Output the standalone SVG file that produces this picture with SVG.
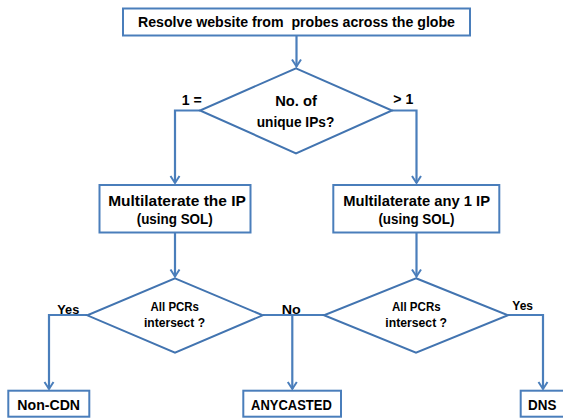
<svg xmlns="http://www.w3.org/2000/svg" width="563" height="418" viewBox="0 0 563 418">
<style>
.box{fill:#ffffff;stroke:#4a7ebb;stroke-width:2}
.dia{fill:#ffffff;stroke:#4274b0;stroke-width:2;stroke-linejoin:miter}
.conn{fill:none;stroke:#4a7ebb;stroke-width:2.2}
text{font-family:"Liberation Sans",Arial,sans-serif;font-weight:bold;fill:#000000;text-anchor:middle}
.t14{font-size:14.5px}
.t145{font-size:15px}
.t12{font-size:12.2px}
.t13{font-size:13.5px}
.t135{font-size:14px}
</style>
<defs>
<marker id="arr" markerUnits="userSpaceOnUse" markerWidth="14" markerHeight="14" refX="8" refY="5.5" orient="auto" overflow="visible">
<path d="M1,1 L8,5.5 L1,10" fill="none" stroke="#4a7ebb" stroke-width="2"/>
</marker>
</defs>
<rect width="563" height="418" fill="#ffffff"/>
<g id="connectors">
<path class="conn" d="M296.5,36 V66.5" marker-end="url(#arr)"/>
<path class="conn" d="M200,110.5 H175 V183" marker-end="url(#arr)"/>
<path class="conn" d="M392,110.5 H416.5 V183" marker-end="url(#arr)"/>
<path class="conn" d="M175,233 V276.5" marker-end="url(#arr)"/>
<path class="conn" d="M416.5,233 V276.5" marker-end="url(#arr)"/>
<path class="conn" d="M87.3,315 H49 V389" marker-end="url(#arr)"/>
<path class="conn" d="M262.7,315 H324"/>
<path class="conn" d="M292.3,315 V389" marker-end="url(#arr)"/>
<path class="conn" d="M508,315 H543 V389" marker-end="url(#arr)"/>
</g>
<g id="n_start">
<rect class="box" x="123" y="8.5" width="347" height="27"/>
<text class="t14" x="296.5" y="27" textLength="317" lengthAdjust="spacingAndGlyphs" xml:space="preserve">Resolve website from  probes across the globe</text>
</g>
<g id="n_unique">
<polygon class="dia" points="296,68.3 392,110.5 296,153.3 200,110.5"/>
<text class="t14" x="296" y="106" textLength="41.7" lengthAdjust="spacingAndGlyphs">No. of</text>
<text class="t14" x="295.5" y="126.8" textLength="77.6" lengthAdjust="spacingAndGlyphs">unique IPs?</text>
</g>
<g id="l_eq1"><text class="t14" x="191.7" y="104.5" textLength="20" lengthAdjust="spacingAndGlyphs">1 =</text></g>
<g id="l_gt1"><text class="t14" x="403.3" y="104" textLength="20" lengthAdjust="spacingAndGlyphs">&gt; 1</text></g>
<g id="n_multi1">
<rect class="box" x="99.5" y="185" width="151" height="47.5"/>
<text class="t145" x="177" y="205.5" textLength="137.7" lengthAdjust="spacingAndGlyphs">Multilaterate the IP</text>
<text class="t145" x="174.7" y="224" textLength="76" lengthAdjust="spacingAndGlyphs">(using SOL)</text>
</g>
<g id="n_multi2">
<rect class="box" x="333.3" y="185" width="166" height="47.5"/>
<text class="t145" x="416.6" y="205.5" textLength="146.8" lengthAdjust="spacingAndGlyphs">Multilaterate any 1 IP</text>
<text class="t145" x="416.4" y="224" textLength="76" lengthAdjust="spacingAndGlyphs">(using SOL)</text>
</g>
<g id="n_pcr1">
<polygon class="dia" points="175,278.3 262.7,315.3 175,352.7 87.3,315.3"/>
<text class="t12" x="174.8" y="310.7" textLength="48.4" lengthAdjust="spacingAndGlyphs">All PCRs</text>
<text class="t12" x="174.5" y="327.3" textLength="61" lengthAdjust="spacingAndGlyphs">intersect ?</text>
</g>
<g id="n_pcr2">
<polygon class="dia" points="416,278.3 508,315.3 416,352.7 324,315.3"/>
<text class="t12" x="416.3" y="310.7" textLength="48.7" lengthAdjust="spacingAndGlyphs">All PCRs</text>
<text class="t12" x="416.2" y="327.3" textLength="61.7" lengthAdjust="spacingAndGlyphs">intersect ?</text>
</g>
<g id="l_yes1"><text class="t13" x="68.3" y="313.5" textLength="22" lengthAdjust="spacingAndGlyphs">Yes</text></g>
<g id="l_no"><text class="t13" x="291.2" y="313.5" textLength="19" lengthAdjust="spacingAndGlyphs">No</text></g>
<g id="l_yes2"><text class="t13" x="522.7" y="309.5" textLength="20.7" lengthAdjust="spacingAndGlyphs">Yes</text></g>
<g id="n_noncdn">
<rect class="box" x="8.3" y="390.7" width="81" height="26"/>
<text class="t135" x="48.7" y="410" textLength="62.7" lengthAdjust="spacingAndGlyphs">Non-CDN</text>
</g>
<g id="n_anycast">
<rect class="box" x="243.3" y="390.7" width="97.7" height="26"/>
<text class="t135" x="291.4" y="410" textLength="80.7" lengthAdjust="spacingAndGlyphs">ANYCASTED</text>
</g>
<g id="n_dns">
<rect class="box" x="520.7" y="390.7" width="46" height="26"/>
<text class="t135" x="542.2" y="410" textLength="28.3" lengthAdjust="spacingAndGlyphs">DNS</text>
</g>
</svg>
